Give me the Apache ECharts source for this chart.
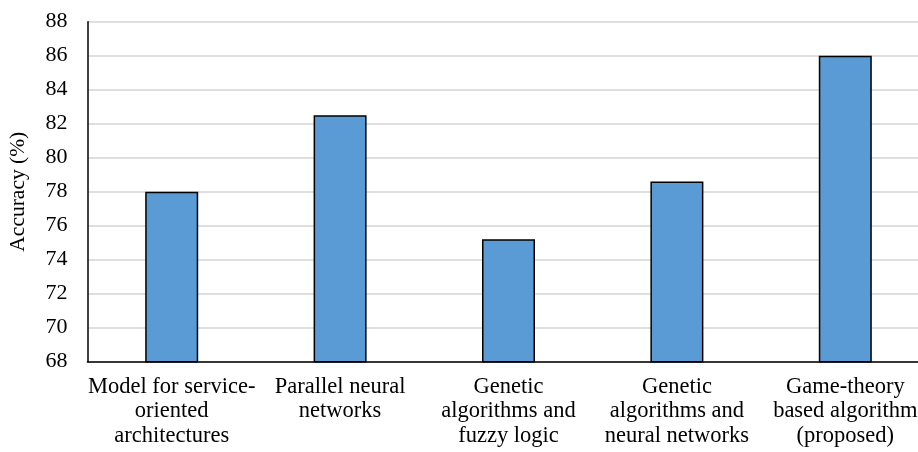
<!DOCTYPE html>
<html>
<head>
<meta charset="utf-8">
<script src="https://cdn.jsdelivr.net/npm/echarts@6/dist/echarts.min.js"></script>
<style>
  html, body { margin: 0; padding: 0; background: #fff; }
  #chart { width: 918px; height: 452px; }
</style>
</head>
<body>
<div id="chart"></div>
<script>
// Method names (with their printed line breaks) and their accuracy in percent
const methods = [
  'Model for service-\noriented\narchitectures',
  'Parallel neural\nnetworks',
  'Genetic\nalgorithms and\nfuzzy logic',
  'Genetic\nalgorithms and\nneural networks',
  'Game-theory\nbased algorithm\n(proposed)'
];
const accuracy = [78, 82.5, 75.2, 78.6, 86];
const yTicks = [68, 70, 72, 74, 76, 78, 80, 82, 84, 86, 88];

const serif = '"Liberation Serif", "Times New Roman", serif';

const chart = echarts.init(document.getElementById('chart'), null, { renderer: 'canvas' });
chart.setOption({
  animation: false,
  backgroundColor: '#ffffff',
  grid: {
    left: 87.5, right: -11.5, top: 21.7, bottom: 90.3,
    containLabel: false,
    outerBoundsMode: 'none'
  },
  xAxis: {
    type: 'category',
    data: methods,
    axisLine: { show: true, lineStyle: { color: '#000', width: 1.5 } },
    axisTick: { show: false },
    axisLabel: {
      interval: 0,
      margin: 13,
      color: '#000',
      fontFamily: serif,
      fontSize: 22.5,
      lineHeight: 24.5,
      align: 'center',
      hideOverlap: false
    }
  },
  yAxis: {
    type: 'value',
    min: yTicks[0],
    max: yTicks[yTicks.length - 1],
    interval: 2,
    name: 'Accuracy (%)',
    nameLocation: 'middle',
    nameGap: 58,
    nameRotate: 90,
    nameTextStyle: { color: '#000', fontFamily: serif, fontSize: 21.5 },
    axisLine: { show: true, lineStyle: { color: '#000', width: 1.5 } },
    axisTick: { show: false },
    axisLabel: { color: '#000', fontFamily: serif, fontSize: 22, margin: 20 },
    splitLine: { show: true, lineStyle: { color: '#d4d4d4', width: 1.5 } }
  },
  series: [{
    type: 'bar',
    data: accuracy,
    barWidth: 53,
    itemStyle: { color: '#5B9BD5', borderColor: '#000', borderWidth: 1.5 }
  }]
});
</script>
</body>
</html>
